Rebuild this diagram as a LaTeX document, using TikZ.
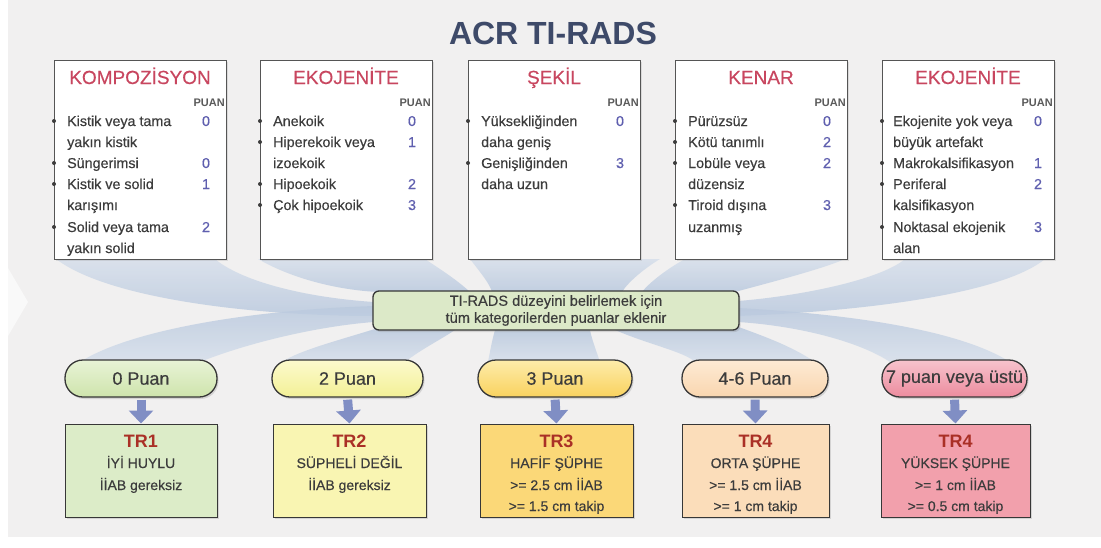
\documentclass[tikz,border=0pt]{standalone}
\usepackage{fontspec}
\setmainfont{Liberation Sans}
\newfontfamily\medfont[FakeBold=0.35]{Liberation Sans}
\usetikzlibrary{shadows,arrows.meta,calc}

\definecolor{bggray}{RGB}{241,240,240}
\definecolor{titlec}{RGB}{62,74,105}
\definecolor{headc}{RGB}{200,70,95}
\definecolor{scorec}{RGB}{95,95,175}
\definecolor{txtc}{RGB}{60,60,60}
\definecolor{puanc}{RGB}{90,90,90}
\definecolor{bordc}{RGB}{85,85,85}
\definecolor{darkb}{RGB}{55,55,55}
\definecolor{bulc}{RGB}{60,60,60}
\definecolor{ribc}{RGB}{186,201,222}
\definecolor{ribl}{RGB}{214,223,235}
\definecolor{midc}{RGB}{220,233,200}
\definecolor{trc}{RGB}{170,48,38}
\definecolor{arrc}{RGB}{128,142,196}
\definecolor{pa}{RGB}{206,228,172}\definecolor{pal}{RGB}{232,243,214}
\definecolor{pb}{RGB}{243,240,150}\definecolor{pbl}{RGB}{252,250,205}
\definecolor{pc}{RGB}{249,210,95}\definecolor{pcl}{RGB}{253,236,170}
\definecolor{pd}{RGB}{249,214,175}\definecolor{pdl}{RGB}{253,234,212}
\definecolor{pe}{RGB}{236,140,158}\definecolor{pel}{RGB}{247,195,205}
\definecolor{ba}{RGB}{220,236,200}
\definecolor{bb}{RGB}{249,245,178}
\definecolor{bc}{RGB}{251,216,120}
\definecolor{bd}{RGB}{251,221,186}
\definecolor{be}{RGB}{242,160,172}

\tikzset{
  topbox/.style={draw=bordc, line width=1pt, fill=white, minimum width=172pt, minimum height=199pt, inner sep=0pt,
    drop shadow={shadow xshift=1.5pt, shadow yshift=-2pt, opacity=0.2}},
  headtxt/.style={anchor=base, text=headc, font=\medfont\fontsize{19}{21}\selectfont, inner sep=0pt},
  puantxt/.style={anchor=base east, text=puanc, font=\bfseries\fontsize{11}{12}\selectfont, inner sep=0pt},
  itemtxt/.style={anchor=base west, text=txtc, font=\medfont\fontsize{14.3}{17}\selectfont, inner sep=0pt},
  scoretxt/.style={anchor=base, text=scorec, font=\medfont\fontsize{14.3}{17}\selectfont, inner sep=0pt},
  bul/.style={circle, fill=bulc, inner sep=0pt, minimum size=4pt},
  ribbon/.style={top color=ribl, bottom color=ribc, opacity=0.85, draw=none},
  ribbonlow/.style={top color=ribc, bottom color=ribl, opacity=0.85, draw=none},
  pill/.style={draw=darkb, line width=1.3pt, rounded corners=18pt, minimum height=37pt, inner sep=0pt,
    font=\medfont\fontsize{18}{20}\selectfont, text=txtc,
    drop shadow={shadow xshift=1.5pt, shadow yshift=-2pt, opacity=0.25}},
  midbox/.style={draw=darkb, line width=1.3pt, rounded corners=6pt, fill=midc, minimum width=366pt, minimum height=39pt,
    inner sep=0pt, align=center, text=txtc, font=\medfont\fontsize{14.6}{17}\selectfont,
    drop shadow={shadow xshift=1.5pt, shadow yshift=-2pt, opacity=0.25}},
  resbox/.style={draw=darkb, line width=1pt, minimum height=93pt, inner sep=0pt,
    drop shadow={shadow xshift=1.5pt, shadow yshift=-2pt, opacity=0.25}},
  trtxt/.style={anchor=base, text=trc, font=\bfseries\fontsize{18}{20}\selectfont, inner sep=0pt},
  restxt/.style={anchor=base, text=txtc, font=\medfont\fontsize{14}{16}\selectfont, inner sep=0pt},
  downarr/.style={line width=9pt, draw=arrc, shorten <=2pt, -{Triangle[width=24pt,length=13pt]}},
}

\newcommand{\itx}[4]{\node[itemtxt] (#1) at (#2+13,#3) {#4};}
\newcommand{\sco}[4]{\node[scoretxt] (#1) at (#2+152,#3) {#4};}
\newcommand{\bu}[3]{\node[bul] (#1) at (#2,#3-5) {};}

\begin{document}
\begin{tikzpicture}[x=1pt,y=-1pt]
\useasboundingbox (0,0) rectangle (1101,547);
\fill[white] (0,0) rectangle (1101,547);
\fill[bggray] (8,0) rectangle (1101,537);
\fill[white,opacity=0.6] (8,268) -- (28,302) -- (8,336) -- cycle;

% upper ribbons
\shade[ribbon] (56,259) .. controls (110,300) and (260,316) .. (374,316) -- (374,302) .. controls (300,297) and (240,280) .. (215,259) -- cycle;
\shade[ribbon] (258,259) .. controls (300,283) and (350,291) .. (380,292) -- (470,292) .. controls (455,278) and (435,266) .. (425,259) -- cycle;
\shade[ribbon] (470,259) .. controls (480,272) and (490,284) .. (492,292) -- (622,292) .. controls (628,282) and (645,268) .. (660,259) -- cycle;
\shade[ribbon] (685,259) .. controls (665,270) and (648,284) .. (642,292) -- (735,292) .. controls (760,285) and (820,270) .. (845,259) -- cycle;
\shade[ribbon] (1045,259) .. controls (1000,296) and (850,312) .. (738,316) -- (738,301) .. controls (800,296) and (880,280) .. (905,259) -- cycle;
% lower ribbons
\shade[ribbonlow] (374,306) .. controls (250,310) and (130,330) .. (80,362) -- (200,362) .. controls (250,342) and (320,326) .. (374,322) -- cycle;
\shade[ribbonlow] (378,328) .. controls (340,340) and (300,350) .. (282,362) -- (405,362) .. controls (420,350) and (440,340) .. (455,330) -- cycle;
\shade[ribbonlow] (495,330) .. controls (492,340) and (490,352) .. (488,362) -- (600,362) .. controls (596,350) and (592,340) .. (590,330) -- cycle;
\shade[ribbonlow] (615,330) .. controls (650,345) and (685,352) .. (695,362) -- (815,362) .. controls (790,345) and (760,335) .. (736,326) -- cycle;
\shade[ribbonlow] (738,308) .. controls (850,314) and (960,330) .. (1010,362) -- (890,362) .. controls (860,342) and (800,326) .. (738,322) -- cycle;

% title
\node[anchor=base, font=\bfseries\fontsize{32}{34}\selectfont, text=titlec, inner sep=0pt] (title) at (553,44) {ACR TI-RADS};

% top boxes
\node[topbox] (k1) at (54+86,159.5) {};
\node[topbox] (k2) at (260+86,159.5) {};
\node[topbox] (k3) at (468+86,159.5) {};
\node[topbox] (k4) at (675+86,159.5) {};
\node[topbox] (k5) at (882+86,159.5) {};

\node[headtxt] (h1) at (54+86,84) {KOMPOZİSYON};
\node[headtxt] (h2) at (260+86,84) {EKOJENİTE};
\node[headtxt] (h3) at (468+86,84) {ŞEKİL};
\node[headtxt] (h4) at (675+86,84) {KENAR};
\node[headtxt] (h5) at (882+86,84) {EKOJENİTE};

\node[puantxt] (u1) at (54+171,106) {PUAN};
\node[puantxt] (u2) at (260+171,106) {PUAN};
\node[puantxt] (u3) at (468+171,106) {PUAN};
\node[puantxt] (u4) at (675+171,106) {PUAN};
\node[puantxt] (u5) at (882+171,106) {PUAN};

% box 1
\itx{a1}{54}{126}{Kistik veya tama} \sco{s11}{54}{126}{0} \bu{d11}{54}{126}
\itx{a2}{54}{147}{yakın kistik}
\itx{a3}{54}{168}{Süngerimsi} \sco{s12}{54}{168}{0} \bu{d12}{54}{168}
\itx{a4}{54}{189}{Kistik ve solid} \sco{s13}{54}{189}{1} \bu{d13}{54}{189}
\itx{a5}{54}{210}{karışımı}
\itx{a6}{54}{232}{Solid veya tama} \sco{s14}{54}{232}{2} \bu{d14}{54}{232}
\itx{a7}{54}{253}{yakın solid}
% box 2
\itx{e1}{260}{126}{Anekoik} \sco{s21}{260}{126}{0} \bu{d21}{260}{126}
\itx{e2}{260}{147}{Hiperekoik veya} \sco{s22}{260}{147}{1} \bu{d22}{260}{147}
\itx{e3}{260}{168}{izoekoik}
\itx{e4}{260}{189}{Hipoekoik} \sco{s23}{260}{189}{2} \bu{d23}{260}{189}
\itx{e5}{260}{210}{Çok hipoekoik} \sco{s24}{260}{210}{3} \bu{d24}{260}{210}
% box 3
\itx{f1}{468}{126}{Yüksekliğinden} \sco{s31}{468}{126}{0} \bu{d31}{468}{126}
\itx{f2}{468}{147}{daha geniş}
\itx{f3}{468}{168}{Genişliğinden} \sco{s32}{468}{168}{3} \bu{d32}{468}{168}
\itx{f4}{468}{189}{daha uzun}
% box 4
\itx{g1}{675}{126}{Pürüzsüz} \sco{s41}{675}{126}{0} \bu{d41}{675}{126}
\itx{g2}{675}{147}{Kötü tanımlı} \sco{s42}{675}{147}{2} \bu{d42}{675}{147}
\itx{g3}{675}{168}{Lobüle veya} \sco{s43}{675}{168}{2} \bu{d43}{675}{168}
\itx{g4}{675}{189}{düzensiz}
\itx{g5}{675}{210}{Tiroid dışına} \sco{s44}{675}{210}{3} \bu{d44}{675}{210}
\itx{g6}{675}{232}{uzanmış}
% box 5
\itx{m1}{880}{126}{Ekojenite yok veya} \node[scoretxt] (s51) at (882+156,126) {0}; \bu{d51}{882}{126}
\itx{m2}{880}{147}{büyük artefakt}
\itx{m3}{880}{168}{Makrokalsifikasyon} \node[scoretxt] (s52) at (882+156,168) {1}; \bu{d52}{882}{168}
\itx{m4}{880}{189}{Periferal} \node[scoretxt] (s53) at (882+156,189) {2}; \bu{d53}{882}{189}
\itx{m5}{880}{210}{kalsifikasyon}
\itx{m6}{880}{232}{Noktasal ekojenik} \node[scoretxt] (s54) at (882+156,232) {3}; \bu{d54}{882}{232}
\itx{m7}{880}{253}{alan}

% middle box
\node[midbox] (mid) at (556,310.5) {TI-RADS düzeyini belirlemek için\\tüm kategorilerden puanlar eklenir};

% pills
\node[pill, minimum width=152pt, top color=pal, bottom color=pa] (p1) at (141,378.5) {0 Puan};
\node[pill, minimum width=151pt, top color=pbl, bottom color=pb] (p2) at (347.5,378.5) {2 Puan};
\node[pill, minimum width=154pt, top color=pcl, bottom color=pc] (p3) at (555,378.5) {3 Puan};
\node[pill, minimum width=146pt, top color=pdl, bottom color=pd] (p4) at (755,378.5) {4-6 Puan};
\node[pill, minimum width=145pt, top color=pel, bottom color=pe] (p5) at (954.5,378.5) {7 puan veya üstü};

% result boxes
\node[resbox, minimum width=152pt, fill=ba] (b1) at (141,470.5) {};
\node[resbox, minimum width=153pt, fill=bb] (b2) at (349.5,470.5) {};
\node[resbox, minimum width=153pt, fill=bc] (b3) at (556.5,470.5) {};
\node[resbox, minimum width=147pt, fill=bd] (b4) at (755.5,470.5) {};
\node[resbox, minimum width=149pt, fill=be] (b5) at (955.5,470.5) {};

\draw[downarr] (p1.south) -- (b1.north);
\draw[downarr] (p2.south) -- (b2.north);
\draw[downarr] (p3.south) -- (b3.north);
\draw[downarr] (p4.south) -- (b4.north);
\draw[downarr] (p5.south) -- (b5.north);

\node[trtxt] (t1) at (141,447) {TR1};
\node[restxt] (t1b) at (141,468) {İYİ HUYLU};
\node[restxt] (t1c) at (141,490) {İİAB gereksiz};

\node[trtxt] (t2) at (349.5,447) {TR2};
\node[restxt] (t2b) at (349.5,468) {SÜPHELİ DEĞİL};
\node[restxt] (t2c) at (349.5,490) {İİAB gereksiz};

\node[trtxt] (t3) at (556.5,447) {TR3};
\node[restxt] (t3b) at (556.5,468) {HAFİF ŞÜPHE};
\node[restxt] (t3c) at (556.5,490) {>= 2.5 cm İİAB};
\node[restxt] (t3d) at (556.5,511) {>= 1.5 cm takip};

\node[trtxt] (t4) at (755.5,447) {TR4};
\node[restxt] (t4b) at (755.5,468) {ORTA ŞÜPHE};
\node[restxt] (t4c) at (755.5,490) {>= 1.5 cm İİAB};
\node[restxt] (t4d) at (755.5,511) {>= 1 cm takip};

\node[trtxt] (t5) at (955.5,447) {TR4};
\node[restxt] (t5b) at (955.5,468) {YÜKSEK ŞÜPHE};
\node[restxt] (t5c) at (955.5,490) {>= 1 cm İİAB};
\node[restxt] (t5d) at (955.5,511) {>= 0.5 cm takip};
\end{tikzpicture}
\end{document}
